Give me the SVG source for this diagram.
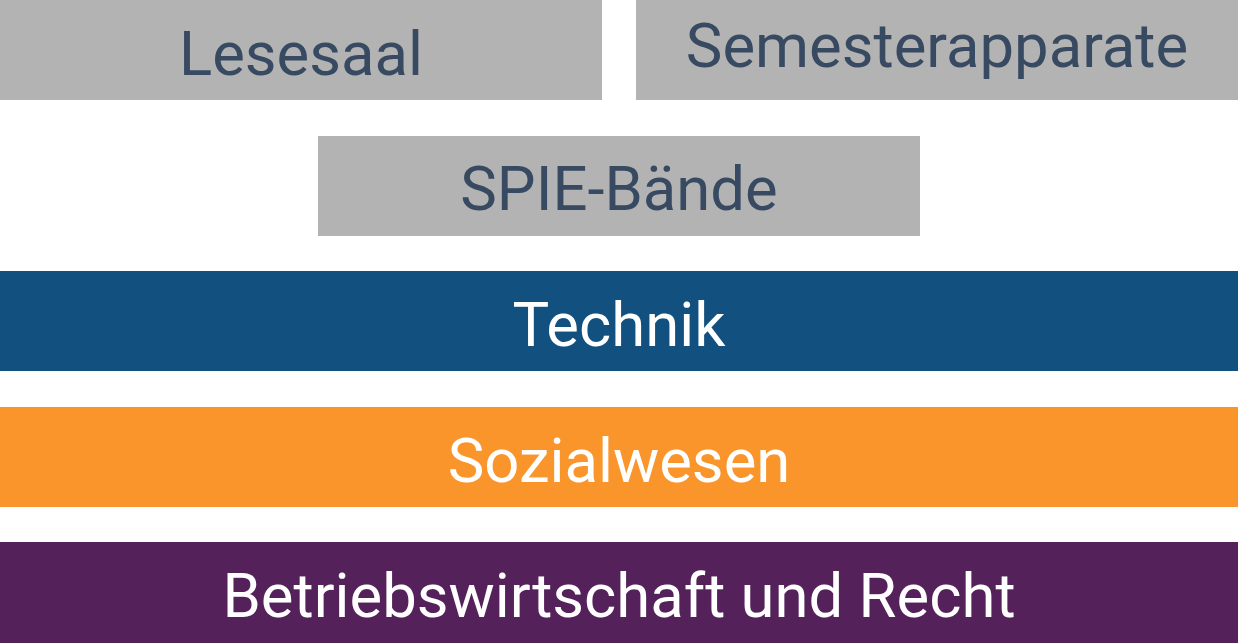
<svg xmlns="http://www.w3.org/2000/svg" width="1238" height="643" viewBox="0 0 1238 643">
<style>
.t{font-family:Roboto,"Liberation Sans",sans-serif;font-size:61.6px;text-anchor:middle}
.g{fill:#b3b3b3}
.d{fill:#374a61}
.w{fill:#ffffff}
</style>
<rect width="1238" height="643" fill="#ffffff"/>
<g id="lesesaal"><rect class="g" x="0" y="0" width="602" height="100"/><text class="t d" x="301" y="75">Lesesaal</text></g>
<g id="semesterapparate"><rect class="g" x="636" y="0" width="602" height="100"/><text class="t d" x="937" y="67">Semesterapparate</text></g>
<g id="spie"><rect class="g" x="318" y="136" width="602" height="100"/><text class="t d" x="619" y="210">SPIE-Bände</text></g>
<g id="technik"><rect fill="#12507f" x="0" y="271" width="1238" height="100"/><text class="t w" x="619" y="346">Technik</text></g>
<g id="sozialwesen"><rect fill="#f9952b" x="0" y="407" width="1238" height="100"/><text class="t w" x="619" y="482">Sozialwesen</text></g>
<g id="bwr"><rect fill="#55215b" x="0" y="542" width="1238" height="101"/><text class="t w" x="619" y="617">Betriebswirtschaft und Recht</text></g>
<g id="connectors"/>
</svg>
